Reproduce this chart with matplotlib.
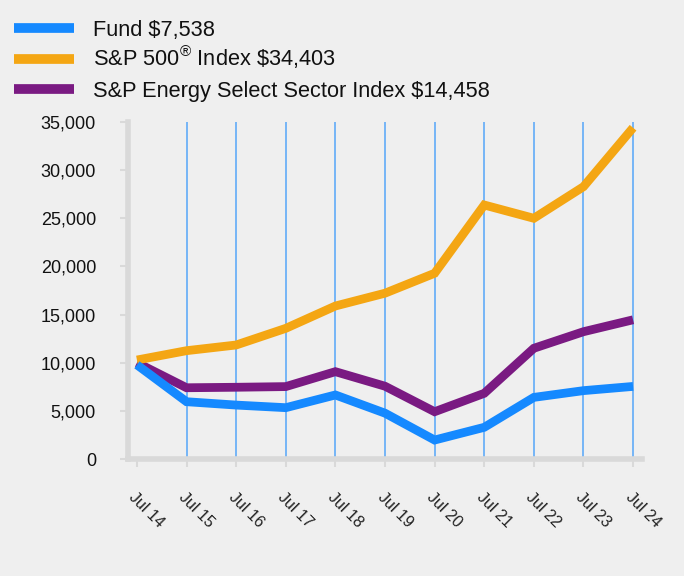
import matplotlib
matplotlib.use("Agg")
import matplotlib.pyplot as plt
import matplotlib.transforms as mtransforms
from matplotlib.lines import Line2D
from matplotlib.ticker import FuncFormatter

plt.rcParams["font.family"] = ["Liberation Sans", "DejaVu Sans"]
plt.rcParams["mathtext.fontset"] = "custom"
plt.rcParams["mathtext.rm"] = "Liberation Sans"
plt.rcParams["mathtext.it"] = "Liberation Sans"
plt.rcParams["mathtext.bf"] = "Liberation Sans"

years = ["Jul 14", "Jul 15", "Jul 16", "Jul 17", "Jul 18", "Jul 19",
         "Jul 20", "Jul 21", "Jul 22", "Jul 23", "Jul 24"]
fund = [9780, 5950, 5600, 5330, 6650, 4760, 1970, 3290, 6400, 7100, 7538]
sp500 = [10280, 11250, 11840, 13570, 15890, 17220, 19290, 26380, 25000, 28280, 34403]
energy = [10000, 7400, 7450, 7520, 9070, 7560, 4910, 6820, 11500, 13220, 14458]

labels = ["Fund $7,538", r"S&P 500$^{\mathrm{®}}$ Index \$34,403",
          "S&P Energy Select Sector Index $14,458"]
colors = ["#1589ff", "#f4a613", "#7a1a82"]

bg = "#efefef"
W, H = 684, 576
fig = plt.figure(figsize=(6.84, 5.76), dpi=100, facecolor=bg)
ax = fig.add_axes([128 / W, 117 / H, 514 / W, 337 / H], facecolor=bg)

x = list(range(len(years)))
# vertical grid lines at every year but the first
for xi in x[1:]:
    ax.axvline(xi, color="#6cb0f7", lw=1.3, zorder=1)

lines = []
for series, c in zip([fund, sp500, energy], colors):
    (h,) = ax.plot(x, series, color=c, lw=6.3, zorder=3,
                   solid_joinstyle="miter", solid_capstyle="butt")
    lines.append(h)
# draw order: purple, orange, then fund on top
lines[0].set_zorder(5)
lines[1].set_zorder(4)

ax.set_xlim(-0.18, 10.18)
ax.set_ylim(0, 35000)
ax.set_yticks(range(0, 35001, 5000))
ax.yaxis.set_major_formatter(FuncFormatter(lambda v, p: f"{int(v):,}"))
ax.set_xticks(x)
ax.set_xticklabels(years, rotation=-45, ha="left", va="top",
                   rotation_mode="anchor", fontsize=11.5, color="#222222")
shift = mtransforms.ScaledTranslation(5 / 72, 0, fig.dpi_scale_trans)
for lbl in ax.get_xticklabels():
    lbl.set_transform(lbl.get_transform() + shift)

for side in ["top", "right"]:
    ax.spines[side].set_visible(False)
for side in ["left", "bottom"]:
    ax.spines[side].set_color("#d9d9d9")
    ax.spines[side].set_linewidth(4)
    ax.spines[side].set_zorder(6)

ax.tick_params(axis="y", length=6, width=1.5, color="#d9d9d9", labelsize=13,
               labelcolor="#111111", pad=17)
ax.tick_params(axis="x", length=6, width=1.5, color="#d9d9d9", pad=16)

# legend, laid out by hand so the superscript row keeps even spacing
for i, (c, lab) in enumerate(zip(colors, labels)):
    yc = 28 + 30.5 * i
    fig.add_artist(Line2D([14 / W, 74 / W], [1 - yc / H] * 2, color=c, lw=7,
                          solid_capstyle="butt"))
    fig.text(93 / W, 1 - (yc + 7.8) / H, lab, fontsize=15.7, color="#111111",
             va="baseline", ha="left")

fig.savefig("out.png", dpi=100, facecolor=bg)
